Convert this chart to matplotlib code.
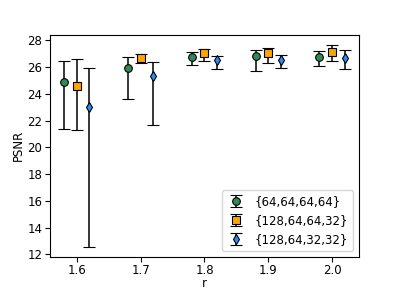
import matplotlib
matplotlib.use("Agg")
import matplotlib.pyplot as plt
import numpy as np

r = [1.6, 1.7, 1.8, 1.9, 2.0]
offsets = [-0.02, 0.0, 0.02]
labels = ["{64,64,64,64}", "{128,64,64,32}", "{128,64,32,32}"]
colors = ["seagreen", "orange", "dodgerblue"]
markers = ["o", "s", "d"]

# mean, upper end, lower end for each config
psnr_mean = [
    [24.93, 25.97, 26.73, 26.86, 26.78],
    [24.60, 26.68, 27.03, 27.08, 27.13],
    [23.00, 25.37, 26.54, 26.54, 26.71],
]
psnr_hi = [
    [26.49, 26.78, 27.15, 27.28, 27.20],
    [26.63, 26.98, 27.38, 27.45, 27.67],
    [25.94, 26.39, 26.83, 26.91, 27.30],
]
psnr_lo = [
    [21.39, 23.64, 26.17, 25.70, 26.11],
    [21.28, 26.31, 26.48, 26.29, 26.46],
    [12.59, 21.71, 25.87, 25.96, 25.87],
]

plt.rcParams["font.size"] = 8.5
fig, ax = plt.subplots(figsize=(3.99, 2.9), dpi=100)
fig.subplots_adjust(bottom=0.115)

for i in range(3):
    x = np.array(r) + offsets[i]
    m = np.array(psnr_mean[i])
    err = [m - np.array(psnr_lo[i]), np.array(psnr_hi[i]) - m]
    ax.errorbar(x, m, yerr=err, fmt=markers[i], color=colors[i], mec="black",
                mew=0.8, ms=5.5, ecolor="black", elinewidth=1.1, capsize=4,
                capthick=1.1, label=labels[i])

ax.set_xlabel("r", labelpad=0)
ax.set_ylabel("PSNR", labelpad=2)
ax.set_xticks(r)
ax.tick_params(pad=2)
ax.legend(loc="lower right", fontsize=8.5, handlelength=1.6)
plt.savefig("out.png")
